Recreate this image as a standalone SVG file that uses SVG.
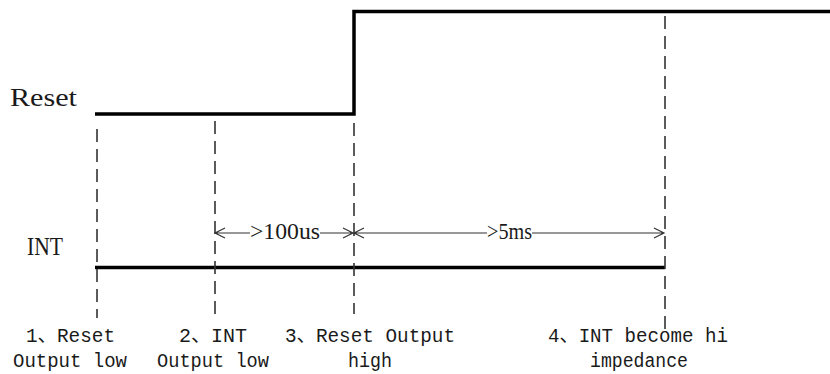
<svg xmlns="http://www.w3.org/2000/svg" width="830" height="374" viewBox="0 0 830 374">
<style>
.sig{fill:none;stroke:#000;stroke-width:3.5;stroke-linejoin:miter}
.dash{fill:none;stroke:#333;stroke-width:1.6;stroke-dasharray:13 7}
.dim{fill:none;stroke:#333;stroke-width:1.2}
.lbl{font-family:"Liberation Serif","Times New Roman",serif;font-size:26px;fill:#1a1a1a}
.dtx{font-family:"Liberation Serif","Times New Roman",serif;font-size:23px;fill:#1a1a1a}
.note{font-family:"Liberation Mono","Courier New","Noto Sans CJK SC",monospace;font-size:20px;fill:#1a1a1a}
</style>
<rect width="830" height="374" fill="#fff"/>
<g id="signals">
<path class="sig" d="M95,114 H354 V11.5 H830"/>
<path class="sig" d="M95,267.5 H665" stroke-width="3"/>
<text class="lbl" x="10" y="106" textLength="67" lengthAdjust="spacingAndGlyphs">Reset</text>
<text class="lbl" x="27" y="255" textLength="36" lengthAdjust="spacingAndGlyphs">INT</text>
</g>
<g id="markers">
<line class="dash" x1="97" y1="129" x2="97" y2="318"/>
<line class="dash" x1="215" y1="121" x2="215" y2="320"/>
<line class="dash" x1="354" y1="123" x2="354" y2="314"/>
<line class="dash" x1="665" y1="16" x2="665" y2="333"/>
</g>
<g id="connectors">
<path class="dim" d="M215,233 H250 M320,233 H353 M225,228 L215,233 L225,238 M343,228 L353,233 L343,238"/>
<path class="dim" d="M354,233 H487 M532,233 H664 M364,228 L354,233 L364,238 M654,228 L664,233 L654,238"/>
<text class="dtx" x="250" y="239" textLength="70" lengthAdjust="spacingAndGlyphs">&gt;100us</text>
<text class="dtx" x="487" y="239" textLength="45" lengthAdjust="spacingAndGlyphs">&gt;5ms</text>
</g>
<g id="notes">
<text class="note" x="26" y="342" textLength="89" lengthAdjust="spacingAndGlyphs">1、Reset</text>
<text class="note" x="13" y="367" textLength="114" lengthAdjust="spacingAndGlyphs">Output low</text>
<text class="note" x="179" y="342" textLength="68" lengthAdjust="spacingAndGlyphs">2、INT</text>
<text class="note" x="157" y="367" textLength="112" lengthAdjust="spacingAndGlyphs">Output low</text>
<text class="note" x="285" y="342" textLength="170" lengthAdjust="spacingAndGlyphs">3、Reset Output</text>
<text class="note" x="348" y="367" textLength="44" lengthAdjust="spacingAndGlyphs">high</text>
<text class="note" x="548" y="342" textLength="180" lengthAdjust="spacingAndGlyphs">4、INT become hi</text>
<text class="note" x="590" y="367" textLength="98" lengthAdjust="spacingAndGlyphs">impedance</text>
</g>
</svg>
